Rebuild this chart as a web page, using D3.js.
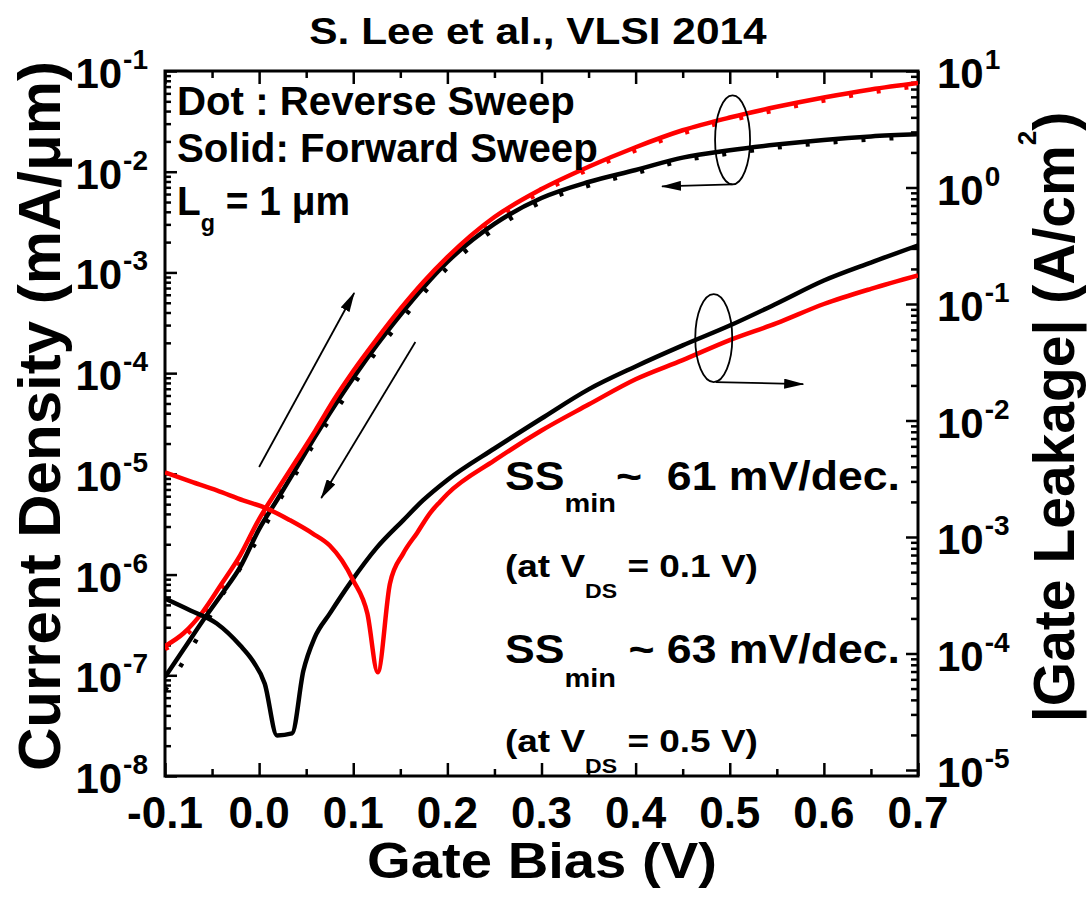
<!DOCTYPE html>
<html>
<head>
<meta charset="utf-8">
<script src="https://cdn.jsdelivr.net/npm/d3@7"></script>
<style>
  body { margin: 0; background: #fff; }
  text { font-family: "Liberation Sans", Arial, sans-serif; font-weight: bold; fill: #000; }
</style>
</head>
<body>
<svg id="chart" width="1090" height="910"></svg>
<script>
// ---- data ----
// gate bias grid for the transfer curves (V)
const vGate = [-0.1, -0.08, -0.06, -0.04, -0.02, 0, 0.02, 0.04, 0.06, 0.08, 0.1, 0.125, 0.15, 0.175,
  0.2, 0.25, 0.3, 0.35, 0.4, 0.45, 0.5, 0.55, 0.6, 0.65, 0.7];
// drain current density (mA/um), left axis
const idBlackFwd = [9.6e-8, 1.82e-7, 3.46e-7, 6.34e-7, 1.19e-6, 2.83e-6, 5.69e-6, 1.16e-5, 2.38e-5, 4.72e-5,
  8.95e-5, 1.9e-4, 3.78e-4, 7.16e-4, 1.27e-3, 3.03e-3, 5.48e-3, 7.91e-3, 1.04e-2, 1.38e-2, 1.63e-2,
  1.86e-2, 2.07e-2, 2.24e-2, 2.35e-2];
const idBlackRev = [7.1e-8, 1.39e-7, 2.88e-7, 6.12e-7, 1.16e-6, 2.39e-6, 5.16e-6, 1.04e-5, 2.12e-5, 4.07e-5,
  7.62e-5, 1.66e-4, 3.22e-4, 6.25e-4, 1.11e-3, 2.7e-3, 5.0e-3, 7.3e-3, 9.7e-3, 1.29e-2, 1.52e-2,
  1.74e-2, 1.93e-2, 2.09e-2, 2.22e-2];
const idRedFwd = [1.95e-7, 2.63e-7, 4.25e-7, 8.05e-7, 1.56e-6, 3.56e-6, 7.08e-6, 1.38e-5, 2.72e-5, 5.53e-5,
  1.05e-4, 2.18e-4, 4.34e-4, 8.13e-4, 1.42e-3, 3.55e-3, 6.73e-3, 1.12e-2, 1.75e-2, 2.58e-2, 3.45e-2,
  4.41e-2, 5.46e-2, 6.56e-2, 7.6e-2];
const idRedRev = [1.82e-7, 2.4e-7, 3.87e-7, 7.35e-7, 1.43e-6, 3.25e-6, 6.46e-6, 1.2e-5, 2.49e-5, 5.05e-5,
  9.58e-5, 1.99e-4, 3.95e-4, 7.59e-4, 1.33e-3, 3.31e-3, 6.29e-3, 1.05e-2, 1.63e-2, 2.41e-2, 3.22e-2,
  4.11e-2, 5.1e-2, 6.13e-2, 7.1e-2];

// gate leakage (A/cm2), right axis
const vLeakBlack = [-0.1, -0.073, -0.045, -0.02, -0.007, 0.006, 0.019, 0.035, 0.047, 0.059, 0.075, 0.097,
  0.125, 0.153, 0.174, 0.2, 0.25, 0.3, 0.35, 0.4, 0.45, 0.5, 0.55, 0.6, 0.65, 0.7];
const jgBlack = [2.96e-4, 2.34e-4, 1.81e-4, 1.17e-4, 8.7e-5, 5.5e-5, 1.98e-5, 2.06e-5, 7.1e-5, 1.37e-4,
  2.2e-4, 4.06e-4, 8.1e-4, 1.39e-3, 2.06e-3, 3.09e-3, 5.75e-3, 1.04e-2, 1.85e-2, 2.91e-2, 4.41e-2,
  6.53e-2, 0.101, 0.159, 0.227, 0.318];
const vLeakRed = [-0.1, -0.07, -0.045, -0.017, 0.008, 0.033, 0.057, 0.075, 0.088, 0.1, 0.115, 0.126,
  0.139, 0.153, 0.168, 0.182, 0.192, 0.2, 0.25, 0.3, 0.35, 0.4, 0.45, 0.5, 0.55, 0.6, 0.65, 0.7];
const jgRed = [3.58e-3, 2.94e-3, 2.51e-3, 2.06e-3, 1.76e-3, 1.39e-3, 1.07e-3, 8.45e-4, 6.28e-4, 4.24e-4,
  2.2e-4, 6.9e-5, 3.99e-4, 7.2e-4, 1.09e-3, 1.62e-3, 2.0e-3, 2.34e-3, 4.54e-3, 8.2e-3, 1.37e-2,
  2.26e-2, 3.3e-2, 4.9e-2, 6.85e-2, 0.1, 0.135, 0.176];

// ticks
const xTicks = [-0.1, 0, 0.1, 0.2, 0.3, 0.4, 0.5, 0.6, 0.7];
const xTickLabels = ['-0.1', '0.0', '0.1', '0.2', '0.3', '0.4', '0.5', '0.6', '0.7'];
const xMinor = [-0.05, 0.05, 0.15, 0.25, 0.35, 0.45, 0.55, 0.65];
const leftExps = [-8, -7, -6, -5, -4, -3, -2, -1];
const rightExps = [-5, -4, -3, -2, -1, 0, 1];

// ---- layout ----
const L = 165, R = 918, T = 71, B = 776;
const svg = d3.select('#chart');

const x = d3.scaleLinear().domain([-0.1, 0.7]).range([L, R]);
const yL = d3.scaleLog().domain([1e-8, 1e-1]).range([B, T]);
const yR = d3.scaleLog().domain([1e-5, 1e1]).range([770, T]);

// minor log ticks 2..9 per decade
const minorLog = exps => {
  const out = [];
  exps.slice(0, -1).forEach(e => { for (let m = 2; m <= 9; m++) out.push(m * Math.pow(10, e)); });
  return out;
};

const defs = svg.append('defs');
defs.append('clipPath').attr('id', 'plot')
  .append('rect').attr('x', L).attr('y', T).attr('width', R - L).attr('height', B - T);
defs.append('marker')
  .attr('id', 'head')
  .attr('markerUnits', 'userSpaceOnUse')
  .attr('viewBox', '0 0 20 10')
  .attr('markerWidth', 20).attr('markerHeight', 10)
  .attr('refX', 19).attr('refY', 5)
  .attr('orient', 'auto')
  .append('path').attr('d', 'M0,0L20,5L0,10Z').attr('fill', '#000');

// axes (ticks only, pointing inward)
function drawAxis(axis, tx, ty) {
  const g = svg.append('g').attr('transform', `translate(${tx},${ty})`).call(axis);
  g.select('.domain').remove();
  g.selectAll('.tick line').attr('stroke', '#000').attr('stroke-width', 2.5);
  g.selectAll('.tick text').remove();
}
drawAxis(d3.axisBottom(x).tickValues(xTicks).tickSize(-13), 0, B);
drawAxis(d3.axisBottom(x).tickValues(xMinor).tickSize(-7), 0, B);
drawAxis(d3.axisTop(x).tickValues(xTicks).tickSize(-13), 0, T);
drawAxis(d3.axisTop(x).tickValues(xMinor).tickSize(-7), 0, T);
drawAxis(d3.axisLeft(yL).tickValues(leftExps.map(e => Math.pow(10, e))).tickSize(-12), L, 0);
drawAxis(d3.axisLeft(yL).tickValues(minorLog(leftExps)).tickSize(-6), L, 0);
drawAxis(d3.axisRight(yR).tickValues(rightExps.map(e => Math.pow(10, e))).tickSize(-12), R, 0);
drawAxis(d3.axisRight(yR).tickValues(minorLog(rightExps)).tickSize(-7), R, 0);

// frame
svg.append('rect').attr('x', L).attr('y', T).attr('width', R - L).attr('height', B - T)
  .attr('fill', 'none').attr('stroke', '#000').attr('stroke-width', 3);

// ---- curves ----
const plot = svg.append('g').attr('clip-path', 'url(#plot)');
const idLine = d3.line().x(d => x(d[0])).y(d => yL(d[1])).curve(d3.curveMonotoneX);
const jgLine = d3.line().x(d => x(d[0])).y(d => yR(d[1])).curve(d3.curveMonotoneX);

const series = [
  { v: vGate, y: idBlackRev, gen: idLine, color: '#000', dash: '4,24' },
  { v: vGate, y: idRedRev, gen: idLine, color: '#ff0000', dash: '4,24' },
  { v: vGate, y: idBlackFwd, gen: idLine, color: '#000', dash: null },
  { v: vGate, y: idRedFwd, gen: idLine, color: '#ff0000', dash: null },
  { v: vLeakBlack, y: jgBlack, gen: jgLine, color: '#000', dash: null },
  { v: vLeakRed, y: jgRed, gen: jgLine, color: '#ff0000', dash: null }
];
series.forEach(s => {
  plot.append('path')
    .datum(s.v.map((v, i) => [v, s.y[i]]))
    .attr('d', s.gen)
    .attr('fill', 'none')
    .attr('stroke', s.color)
    .attr('stroke-width', 4.5)
    .attr('stroke-linejoin', 'round')
    .attr('stroke-dasharray', s.dash);
});

// ---- annotations (arrows + ellipses), placed in data space ----
const ann = svg.append('g').attr('stroke', '#000').attr('fill', 'none').attr('stroke-width', 1.8);
function arrow(x1, y1, x2, y2) {
  ann.append('line').attr('x1', x1).attr('y1', y1).attr('x2', x2).attr('y2', y2)
    .attr('marker-end', 'url(#head)');
}
arrow(x(0.0), yL(1.17e-5), x(0.101), yL(6.25e-4));
arrow(x(0.166), yL(2.04e-4), x(0.066), yL(5.75e-6));
// left-axis group
ann.append('ellipse').attr('cx', x(0.503)).attr('cy', yL(2.07e-2)).attr('rx', 17.5).attr('ry', 44.5);
arrow(x(0.503), yL(2.07e-2) + 44.5, x(0.428), yL(2.07e-2) + 46.5);
// right-axis group
ann.append('ellipse').attr('cx', x(0.483)).attr('cy', yR(5.1e-2)).attr('rx', 18.5).attr('ry', 44);
arrow(x(0.485), yR(5.1e-2) + 44, x(0.578), yR(5.1e-2) + 46);

// ---- text ----
function richText(parent, px, py, parts, opts = {}) {
  const t = parent.append('text').attr('x', px).attr('y', py)
    .attr('text-anchor', opts.anchor || 'start').style('white-space', 'pre');
  parts.forEach(([s, fs, dy, dx]) => {
    t.append('tspan').attr('font-size', fs).attr('dy', dy || 0).attr('dx', dx || 0).text(s);
  });
  if (opts.width) {
    const w = t.node().getBBox().width;
    const k = opts.width / w;
    t.attr('transform', `translate(${px},0) scale(${k},1) translate(${-px},0)`);
  }
  if (opts.rotate) t.attr('transform', opts.rotate);
  return t;
}

// tick labels
svg.append('g').selectAll('text').data(xTicks).join('text')
  .attr('x', d => x(d)).attr('y', 828)
  .attr('text-anchor', 'middle').attr('font-size', 44)
  .text((d, i) => xTickLabels[i]);

leftExps.forEach(e => {
  richText(svg, 148, yL(Math.pow(10, e)) + 17, [['10', 42], [String(e), 28, -19, 1]], { anchor: 'end' });
});
rightExps.forEach(e => {
  richText(svg, 937, yR(Math.pow(10, e)) + 17, [['10', 42], [String(e), 28, -19, 1]]);
});

// titles
richText(svg, 538, 44, [['S. Lee et al., VLSI 2014', 37]], { anchor: 'middle', width: 458 });
richText(svg, 542, 878, [['Gate Bias (V)', 50]], { anchor: 'middle', width: 350 });
svg.append('text').attr('transform', 'translate(60,416) rotate(-90)')
  .attr('text-anchor', 'middle').attr('font-size', 60)
  .text('Current Density (mA/\u03bcm)');
richText(svg, 0, 0, [['|Gate Leakage| (A/cm', 57], ['2', 26, -38], [')', 57, 38]],
  { anchor: 'middle', rotate: 'translate(1074,417) rotate(-90)' });

// legend notes
richText(svg, 177, 115, [['Dot : Reverse Sweep', 40]], { width: 398 });
richText(svg, 177, 162, [['Solid: Forward Sweep', 40]], { width: 421 });
richText(svg, 177, 215, [['L', 40], ['g', 24, 16], [' = 1 \u03bcm', 40, -16]], { width: 173 });

richText(svg, 505, 490, [['SS', 40], ['min', 26, 22], ['~  61 mV/dec.', 40, -22]], { width: 395 });
richText(svg, 505, 577, [['(at V', 32], ['DS', 20, 21], [' = 0.1 V)', 32, -21]], { width: 253 });
richText(svg, 505, 663, [['SS', 40], ['min', 26, 24], [' ~ 63 mV/dec.', 40, -24]], { width: 395 });
richText(svg, 505, 752, [['(at V', 32], ['DS', 20, 21], [' = 0.5 V)', 32, -21]], { width: 253 });
</script>
</body>
</html>
